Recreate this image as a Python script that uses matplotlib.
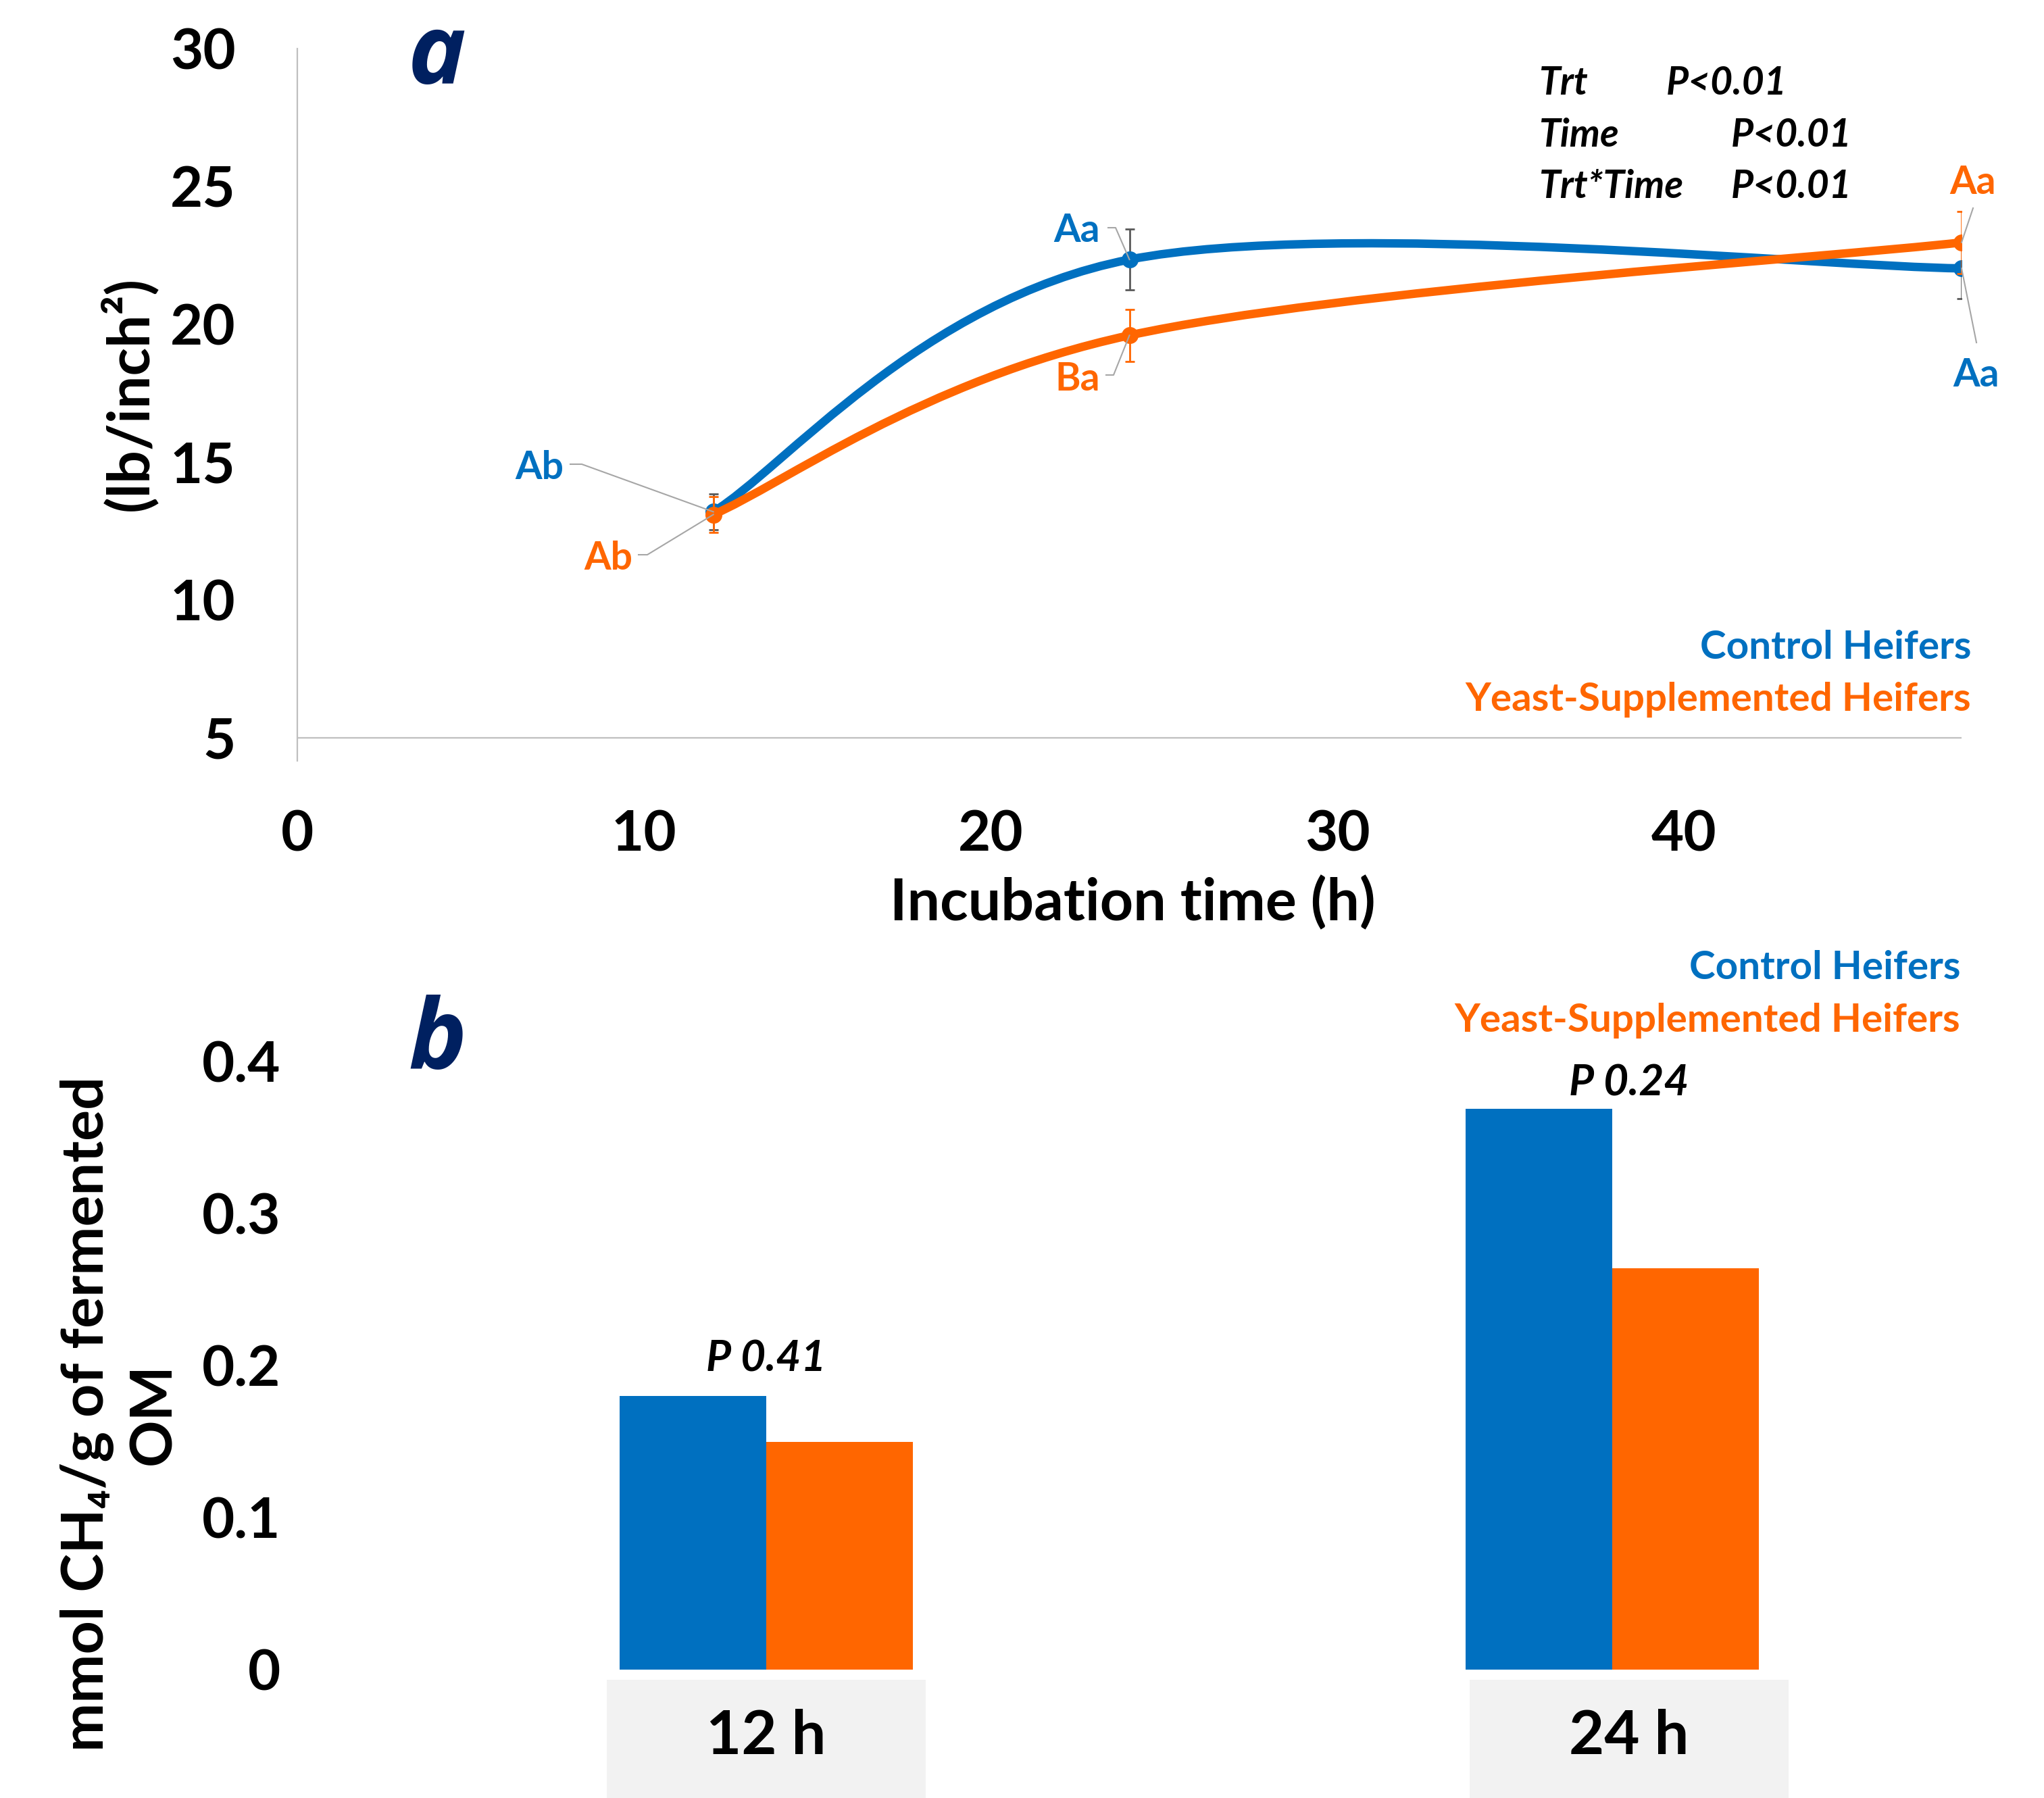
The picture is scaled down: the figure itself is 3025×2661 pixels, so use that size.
import numpy as np
import matplotlib
matplotlib.use("Agg")
import matplotlib.pyplot as plt
from matplotlib.path import Path
from matplotlib.patches import PathPatch, Rectangle
from matplotlib.lines import Line2D
from matplotlib.transforms import Affine2D

W, H = 3025, 2661
DPI = 100

# panel a: compression (lb/inch^2) over incubation time
hours = [12, 24, 48]
control_psi = [13.2, 22.35, 22.03]
control_err = [0.65, 1.1, 1.1]
yeast_psi = [13.1, 19.6, 22.97]
yeast_err = [0.65, 0.95, 1.13]
control_letters = ["Ab", "Aa", "Aa"]
yeast_letters = ["Ab", "Ba", "Aa"]
stats_terms = ["Trt", "Time", "Trt*Time"]
stats_p = ["P<0.01", "P<0.01", "P<0.01"]

# panel b: methane per g fermented OM
times = ["12 h", "24 h"]
control_ch4 = [0.18, 0.369]
yeast_ch4 = [0.15, 0.264]
pvals = ["P 0.41", "P 0.24"]

BLUE = "#0070C0"
ORANGE = "#FF6600"
NAVY = "#002060"
LEADER = "#A6A6A6"
AXIS = "#BFBFBF"

plt.rcParams["font.family"] = ["Lato", "DejaVu Sans"]
plt.rcParams["font.weight"] = "bold"

# top-left pixel coords -> display coords (dpi 100, no tight bbox)
PX = Affine2D().scale(1, -1).translate(0, H)


def smooth_path(x, y):
    # excel-like smoothed line: bezier segments, catmull-rom control points
    pts = np.column_stack([x, y]).astype(float)
    n = len(pts)
    verts = [pts[0]]
    codes = [Path.MOVETO]
    for i in range(n - 1):
        p0 = pts[max(i - 1, 0)]
        p1 = pts[i]
        p2 = pts[i + 1]
        p3 = pts[min(i + 2, n - 1)]
        verts += [p1 + (p2 - p0) / 6, p2 - (p3 - p1) / 6, p2]
        codes += [Path.CURVE4] * 3
    return Path(verts, codes)


def to_px(ax, x, y):
    X, Y = ax.transData.transform((x, y))
    return X, H - Y


fig = plt.figure(figsize=(W / DPI, H / DPI), dpi=DPI)

# ---------------- panel a ----------------
ax = fig.add_axes([440 / W, 1 - 1126 / H, (2903 - 440) / W, (1126 - 72) / H])
ax.set_xlim(0, 48)
ax.set_ylim(30 - 1054 / 40.8, 30)
for s in ["top", "right", "bottom"]:
    ax.spines[s].set_visible(False)
ax.spines["left"].set_color(AXIS)
ax.spines["left"].set_linewidth(1.6)
ax.axhline(5, color=AXIS, lw=1.6, zorder=1)
ax.set_xticks([0, 10, 20, 30, 40])
ax.set_yticks([5, 10, 15, 20, 25, 30])
ax.tick_params(axis="both", length=0, labelsize=60)
ax.tick_params(axis="x", pad=52)
ax.tick_params(axis="y", pad=66)

series = [
    (control_psi, control_err, control_letters, BLUE, "#595959", 3),
    (yeast_psi, yeast_err, yeast_letters, ORANGE, ORANGE, 5),
]
for yv, err, _, col, ecol, z in series:
    ax.add_patch(PathPatch(smooth_path(hours, yv), fill=False, edgecolor=col,
                           lw=9, capstyle="round", zorder=z))
    ax.errorbar(hours, yv, yerr=err, fmt="o", color=col, ms=17, ecolor=ecol,
                elinewidth=2, capsize=5, capthick=2, zorder=z + 0.5)

# letter labels: (series, index, text centre x, baseline y, leader start, elbow) in px
label_layout = [
    (0, 0, 798, 709, (844, 687), (861, 687)),
    (1, 0, 900, 843, (945, 821), (958, 821)),
    (0, 1, 1594, 358, (1640, 337), (1651, 337)),
    (1, 1, 1595, 578, (1637, 555), (1648, 555)),
    (1, 2, 2920, 287, (2920, 308), None),
    (0, 2, 2925, 572, (2925, 507), None),
]
for si, i, tx, ty, start, elbow in label_layout:
    yv, _, letters, col, _, _ = series[si]
    fig.text(tx, ty, letters[i], transform=PX, ha="center", va="baseline",
             color=col, fontsize=41)
    px, py = to_px(ax, hours[i], yv[i])
    xs = [start[0]] + ([elbow[0]] if elbow else []) + [px]
    ys = [start[1]] + ([elbow[1]] if elbow else []) + [py]
    fig.add_artist(Line2D(xs, ys, transform=PX, color=LEADER, lw=1.5, zorder=10))

stat_rows = [(140, 2466), (217, 2562), (293, 2562)]
for term, p, (base, pcol) in zip(stats_terms, stats_p, stat_rows):
    fig.text(2278, base, term, transform=PX, ha="left", va="baseline",
             fontsize=41, style="italic")
    fig.text(pcol, base, p, transform=PX, ha="left", va="baseline",
             fontsize=41, style="italic")

fig.text(2917, 975, "Control Heifers", transform=PX, ha="right", va="baseline",
         color=BLUE, fontsize=42)
fig.text(2917, 1052, "Yeast-Supplemented Heifers", transform=PX, ha="right",
         va="baseline", color=ORANGE, fontsize=42)

fig.text(1676, 1362, "Incubation time (h)", transform=PX, ha="center",
         va="baseline", fontsize=62)
fig.text(190, 582, "(lb/inch²)", transform=PX, ha="center", va="center",
         rotation=90, fontsize=62)
fig.text(647, 124, "a", transform=PX, ha="center", va="baseline", color=NAVY,
         fontsize=104, style="italic", family="Open Sans")

# ---------------- panel b ----------------
cat_px = [1134, 2386]
unit = cat_px[1] - cat_px[0]
bx = fig.add_axes([440 / W, 1 - 2471 / H, (2903 - 440) / W, (2471 - 1526) / H])
bx.set_xlim((440 - cat_px[0]) / unit, (2903 - cat_px[0]) / unit)
bx.set_ylim(0, (2471 - 1526) / 2250)
for s in bx.spines.values():
    s.set_visible(False)

x = np.arange(len(times))
w = 217 / unit
bx.bar(x - w / 2, control_ch4, w, color=BLUE, zorder=2)
bx.bar(x + w / 2, yeast_ch4, w, color=ORANGE, zorder=2)
bx.set_xticks([])
bx.set_yticks([0, 0.1, 0.2, 0.3, 0.4])
bx.set_yticklabels(["0", "0.1", "0.2", "0.3", "0.4"])
bx.tick_params(axis="y", length=0, labelsize=60, pad=18)

box_shift = [0, 25]
p_offset = [26, 14]
for i, lab in enumerate(times):
    cx, _ = to_px(bx, x[i], 0)
    cx += box_shift[i]
    fig.add_artist(Rectangle((cx - 236, 2486), 472, H - 2486, transform=PX,
                             facecolor="#F2F2F2", edgecolor="none", zorder=0))
    fig.text(cx, 2596, lab, transform=PX, ha="center", va="baseline", fontsize=65)
    bx.annotate(pvals[i], xy=(x[i] + box_shift[i] / unit, max(control_ch4[i], yeast_ch4[i])),
                xytext=(0, p_offset[i]), textcoords="offset points", ha="center",
                va="baseline", fontsize=46, style="italic", annotation_clip=False)

fig.text(2901, 1449, "Control Heifers", transform=PX, ha="right", va="baseline",
         color=BLUE, fontsize=42)
fig.text(2901, 1527, "Yeast-Supplemented Heifers", transform=PX, ha="right",
         va="baseline", color=ORANGE, fontsize=42)

fig.text(178, 2093, "mmol CH₄/g of fermented\nOM", transform=PX, ha="center",
         va="center", rotation=90, fontsize=62, multialignment="center",
         linespacing=1.3)
fig.text(647, 1581, "b", transform=PX, ha="center", va="baseline", color=NAVY,
         fontsize=104, style="italic", family="Open Sans")

fig.savefig("out.png", dpi=DPI)
